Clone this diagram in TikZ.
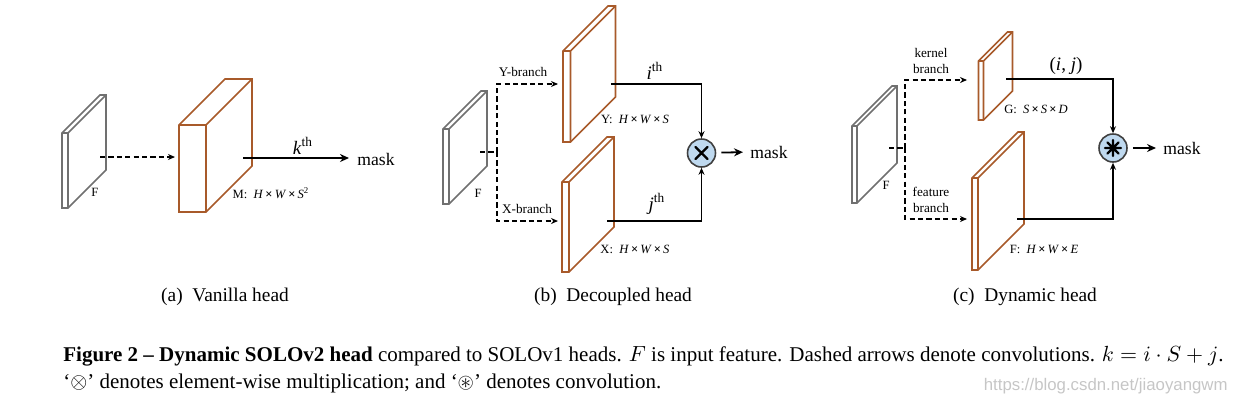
\documentclass[tikz,border=0pt]{standalone}
\usepackage{amssymb}
\usepackage{fontspec}
\setmainfont{Liberation Serif}
\newfontfamily\wmfont{Liberation Sans}
\usetikzlibrary{arrows.meta,calc}

\definecolor{brn}{HTML}{A85A2A}
\definecolor{plgray}{HTML}{707070}
\definecolor{opblue}{HTML}{BFD9EF}
\definecolor{opedge}{HTML}{404040}

\tikzset{
  plate/.style={line width=0.85pt, line join=miter, fill=white},
  conv/.style={dash pattern=on 2.6pt off 1.6pt, line width=0.75pt, -{Stealth[length=3.5pt,width=3pt]}},
  convline/.style={dash pattern=on 2.6pt off 1.6pt, line width=0.75pt},
  link/.style={line width=0.9pt, -{Stealth[length=3.5pt,width=3pt]}},
  outarr/.style={line width=0.9pt, -{Stealth[length=4.5pt,width=4pt]}},
  opnode/.style={circle, draw=opedge, fill=opblue, line width=0.8pt, minimum size=14pt, inner sep=0pt},
  masklbl/.style={inner sep=0pt, font=\fontsize{8.8}{10}\selectfont},
  brlbl/.style={inner sep=0pt, font=\fontsize{6.6}{8}\selectfont, align=center},
  dimlbl/.style={inner sep=0pt, font=\fontsize{6.3}{8}\selectfont},
  idxlbl/.style={inner sep=0pt, font=\fontsize{9.5}{10}\selectfont},
  sublbl/.style={inner sep=0pt, font=\fontsize{9.7}{12}\selectfont},
  caplbl/.style={inner sep=0pt, anchor=base west, font=\fontsize{10.5}{12}\selectfont},
}

% color, x0, x1, y0, y1, depth
\newcommand\drawplate[6]{%
  \filldraw[plate,draw=#1] (#2,#4) -- ({#2+#6},{#4-#6}) -- ({#3+#6},{#4-#6}) -- ({#3+#6},{#5-#6}) -- (#3,#5) -- (#2,#5) -- cycle;
  \draw[plate,draw=#1,fill=none] (#2,#4) -- (#3,#4) -- ({#3+#6},{#4-#6}) (#3,#4) -- (#3,#5);
}

\begin{document}
\begin{tikzpicture}[x=0.5pt,y=-0.5pt]
\useasboundingbox (0,0) rectangle (1235,408);

% ---------------- (a) Vanilla head ----------------
\drawplate{plgray}{62}{68}{133}{208}{38}
\drawplate{brn}{179}{206}{125}{212}{46}
\node[dimlbl] (aFl) at (95,192) {F};
\node[dimlbl] (aMl) at (271,193) {M:\ \ \textit{H}\,\textbf{×}\,\textit{W}\,\textbf{×}\,\textit{S}\textsuperscript{2}};
\coordinate (aFout) at (100,157);
\coordinate (aMin) at (175,157);
\coordinate (aMout) at (243,158);
\draw[conv] (aFout) -- (aMin);
\node[masklbl] (amask) at (376,159) {mask};
\coordinate (aend) at (349,158);
\draw[outarr] (aMout) -- (aend);
\node[idxlbl] (ak) at (303,146) {\textit{k}\textsuperscript{th}};

% ---------------- (b) Decoupled head ----------------
\drawplate{plgray}{443}{449}{129}{204}{38}
\drawplate{brn}{563}{570.5}{51}{142}{45}
\drawplate{brn}{562}{569}{182}{272}{45}
\node[dimlbl] (bFl) at (478,193) {F};
\node[dimlbl] (bYl) at (635,119) {Y:\ \ \textit{H}\,\textbf{×}\,\textit{W}\,\textbf{×}\,\textit{S}};
\node[dimlbl] (bXl) at (635,249) {X:\ \ \textit{H}\,\textbf{×}\,\textit{W}\,\textbf{×}\,\textit{S}};
\node[brlbl] (bYb) at (523,72) {Y-branch};
\node[brlbl] (bXb) at (527,209) {X-branch};
\coordinate (bFout) at (480,152);
\coordinate (bJ) at (497,152);
\coordinate (bYin) at (558,84);
\coordinate (bXin) at (558,221);
\draw[convline] (bFout) -- (bJ);
\draw[conv] (bJ) |- (bYin);
\draw[conv] (bJ) |- (bXin);
\node[opnode] (bmul) at (701.5,153) {};
\draw[line width=1.2pt, line cap=round] ($(bmul)+(-6,-6)$) -- ($(bmul)+(6,6)$) ($(bmul)+(-6,6)$) -- ($(bmul)+(6,-6)$);
\coordinate (bYout) at (611,84);
\coordinate (bXout) at (607,221);
\draw[link] (bYout) -| (bmul);
\draw[link] (bXout) -| (bmul);
\node[idxlbl] (bi) at (655,71) {\textit{i}\textsuperscript{th}};
\node[idxlbl] (bj) at (657,204) {\textit{j}\textsuperscript{th}};
\node[masklbl, anchor=west] (bmask) at (750,152) {mask};
\draw[outarr, shorten <=2.5pt, shorten >=3.5pt] (bmul) -- (bmask.west);

% ---------------- (c) Dynamic head ----------------
\drawplate{plgray}{852}{857}{126}{203}{40}
\drawplate{brn}{978.5}{983.5}{61}{120}{29}
\drawplate{brn}{972}{978}{178}{270}{46}
\node[dimlbl] (cFl) at (886,185) {F};
\node[dimlbl] (cGl) at (1036,109) {G:\ \ \textit{S}\,\textbf{×}\,\textit{S}\,\textbf{×}\,\textit{D}};
\node[dimlbl] (cEl) at (1044,249) {F:\ \ \textit{H}\,\textbf{×}\,\textit{W}\,\textbf{×}\,\textit{E}};
\node[brlbl] (ckb) at (931,61) {kernel\\branch};
\node[brlbl] (cfb) at (931,200) {feature\\branch};
\coordinate (cFout) at (889,148);
\coordinate (cJ) at (905,148);
\coordinate (cKin) at (967,80);
\coordinate (cEin) at (967,219);
\draw[convline] (cFout) -- (cJ);
\draw[conv] (cJ) |- (cKin);
\draw[conv] (cJ) |- (cEin);
\node[opnode] (cconv) at (1113,148) {};
\draw[line width=1.1pt, line cap=round]
  ($(cconv)+(-8,0)$) -- ($(cconv)+(8,0)$)
  ($(cconv)+(0,-8)$) -- ($(cconv)+(0,8)$)
  ($(cconv)+(-5.7,-5.7)$) -- ($(cconv)+(5.7,5.7)$)
  ($(cconv)+(-5.7,5.7)$) -- ($(cconv)+(5.7,-5.7)$);
\coordinate (cGout) at (1006,79);
\coordinate (cEout) at (1017,219);
\draw[link] (cGout) -| (cconv);
\draw[link] (cEout) -| (cconv);
\node[idxlbl] (cij) at (1066,66) {(\textit{i}, \textit{j})};
\node[masklbl, anchor=west] (cmask) at (1163,148) {mask};
\draw[outarr, shorten <=2.5pt, shorten >=3.5pt] (cconv) -- (cmask.west);

% ---------------- sub-captions ----------------
\node[sublbl] (capa) at (225,297) {(a)\ \ Vanilla head};
\node[sublbl] (capb) at (613,297) {(b)\ \ Decoupled head};
\node[sublbl] (capc) at (1025,297) {(c)\ \ Dynamic head};

% ---------------- figure caption ----------------
\node[caplbl] (cap1) at (63,361) {\textbf{Figure 2 – Dynamic SOLOv2 head} compared to SOLOv1 heads. $F$ is input feature. Dashed arrows denote convolutions. $k=i\cdot S+j$.};
\node[caplbl] (cap2) at (63,388) {‘$\otimes$’ denotes element-wise multiplication; and ‘$\circledast$’ denotes convolution.};
\node[inner sep=0pt, anchor=base east, text=gray!45, font=\wmfont\fontsize{8.4}{9}\selectfont] (wm) at (1228,390) {https://blog.csdn.net/jiaoyangwm};
\end{tikzpicture}
\end{document}
